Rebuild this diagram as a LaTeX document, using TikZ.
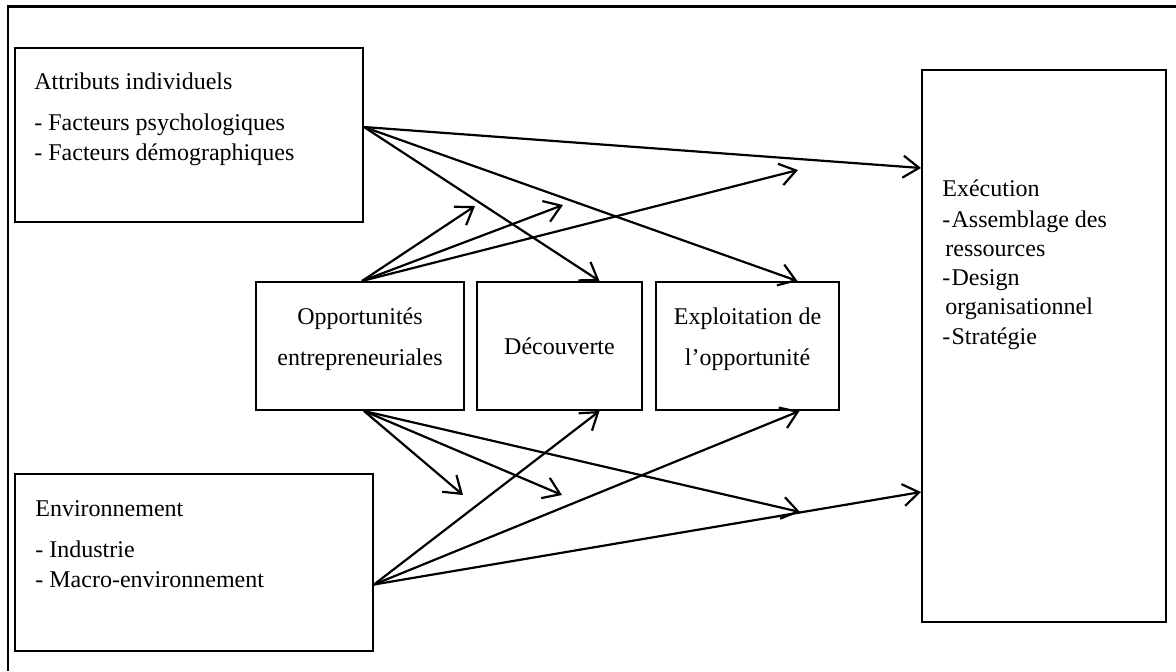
\documentclass[tikz,border=0pt]{standalone}
\usepackage{fontspec}
\setmainfont{Liberation Serif}
\usetikzlibrary{positioning,arrows.meta}
\tikzset{
  block/.style={
    % The shape:
    rectangle,
    % The border:
    draw=black,line width=1pt,
    % The rest
    inner sep=0pt,align=center,
    font=\fontsize{12}{14.5}\selectfont},
  listing/.style={
    % The shape:
    rectangle,
    inner sep=0pt,
    % The rest
    align=left,anchor=base west,
    font=\fontsize{12}{14.6}\selectfont},
  frame/.style={line width=1.2pt}
}

\begin{document}
\begin{tikzpicture}[x=0.5pt,y=-0.5pt,>={Straight Barb[length=8pt,width=11pt]},
                    link/.style={->,line width=1.1pt}]
  \useasboundingbox (0,0) rectangle (1176,671);
  \draw[frame] (8,671) -- (8,6.5) -- (1176,6.5);

  % outer blocks
  \node (attr) [block,minimum width=174pt,minimum height=87pt] at (189,135) {};
  \node (env)  [block,minimum width=179pt,minimum height=88.5pt] at (194,562.5) {};
  \node (exec) [block,minimum width=122pt,minimum height=276pt] at (1044,346) {};

  % texts, anchored on their last line
  \node (attrtxt) [listing] at ([xshift=10pt,yshift=-56.5pt]attr.north west)
    {Attributs individuels\\[6pt]- Facteurs psychologiques\\- Facteurs démographiques};
  \node (envtxt)  [listing] at ([xshift=10.5pt,yshift=-57pt]env.north west)
    {Environnement\\[6pt]- Industrie\\- Macro-environnement};
  \node (exectxt) [listing] at ([xshift=10.5pt,yshift=-137.5pt]exec.north west)
    {Exécution\\[1pt]-\hspace{0.6pt}Assemblage des\\\hspace*{1.5pt}ressources\\-\hspace{0.6pt}Design\\\hspace*{1.5pt}organisationnel\\-\hspace{0.6pt}Stratégie};

  % middle row
  \node (opp)  [block,minimum width=104pt,minimum height=64pt,text depth=9.5pt] at (360,346)
    {Opportunités\\[6pt]entrepreneuriales};
  \node (dec)  [block,minimum width=82.5pt,minimum height=64pt,right=5.5pt of opp] {Découverte};
  \node (expl) [block,minimum width=91.5pt,minimum height=64pt,text depth=9.5pt,right=6pt of dec]
    {Exploitation de\\[6pt]l'opportunité};

  % free ends of the moderating arrows
  \coordinate (up1)   at (475,206);
  \coordinate (up2)   at (563,205);
  \coordinate (up3)   at (798,170);
  \coordinate (down1) at (463,495);
  \coordinate (down2) at (562,495);
  \coordinate (down3) at (800,512);

  \draw[link] ([yshift=4pt]attr.east) -- ([yshift=89pt]exec.west);
  \draw[link] ([yshift=4pt]attr.east) -- ([xshift=20pt]dec.north);
  \draw[link] ([yshift=4pt]attr.east) -- ([xshift=25pt]expl.north);

  \draw[link] ([xshift=1pt]opp.north) -- (up1);
  \draw[link] ([xshift=1pt]opp.north) -- (up2);
  \draw[link] ([xshift=1pt]opp.north) -- (up3);

  \draw[link] ([xshift=2pt]opp.south) -- (down1);
  \draw[link] ([xshift=2pt]opp.south) -- (down2);
  \draw[link] ([xshift=2pt]opp.south) -- (down3);

  \draw[link] ([yshift=-11pt]env.east) -- ([xshift=20pt]dec.south);
  \draw[link] ([yshift=-11pt]env.east) -- ([xshift=26pt]expl.south);
  \draw[link] ([yshift=-11pt]env.east) -- ([yshift=-73pt]exec.west);
\end{tikzpicture}
\end{document}
